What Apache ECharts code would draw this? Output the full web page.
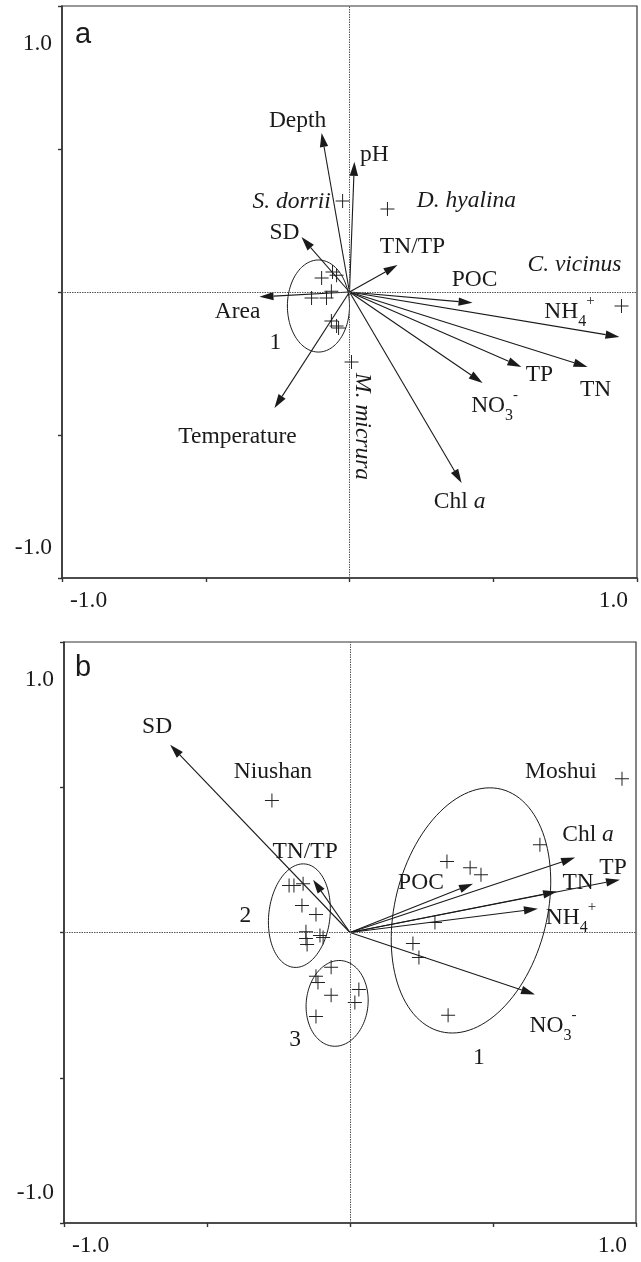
<!DOCTYPE html>
<html><head><meta charset="utf-8">
<script src="https://cdn.jsdelivr.net/npm/echarts@6/dist/echarts.min.js"></script>
<style>html,body{margin:0;padding:0;background:#fff}#c{width:641px;height:1262px}</style>
</head><body><div id="c"></div>
<script>
// ================= DATA =================
const tickLabels = ['-1.0', '1.0'];
const panelLetters = ['a', 'b'];

// ---- Panel a: environmental variables (arrow tips) ----
const aVarNames = ['Depth', 'pH', 'SD', 'TN/TP', 'POC', 'NH4+', 'TN', 'TP', 'NO3-', 'Chl a', 'Area', 'Temperature'];
const aVarX = [-0.097, 0.017, -0.167, 0.167, 0.428, 0.939, 0.828, 0.598, 0.463, 0.390, -0.313, -0.261];
const aVarY = [0.556, 0.455, 0.192, 0.094, -0.038, -0.157, -0.262, -0.262, -0.318, -0.668, -0.017, -0.406];
// ---- Panel a: species ----
const aSpeciesNames = ['S. dorrii', 'D. hyalina', 'C. vicinus', 'M. micrura'];
const aSpeciesX = [-0.024, 0.132, 0.946, 0.007];
const aSpeciesY = [0.318, 0.290, -0.049, -0.245];
// ---- Panel a: sites ----
const aSiteX = [-0.097, -0.059, -0.045, -0.132, -0.080, -0.063, -0.063, -0.045, -0.038];
const aSiteY = [0.049, 0.070, 0.059, -0.021, -0.021, 0.003, -0.101, -0.119, -0.126];
// ---- Panel a: site groups (ellipses) ----
const aClusterNames = ['1'];
const aClusterCx = [-0.108];
const aClusterCy = [-0.049];
const aClusterRx = [0.108];
const aClusterRy = [0.161];
const aClusterTilt = [0];

// ---- Panel b: environmental variables ----
const bVarNames = ['SD', 'TN/TP', 'POC', 'Chl a', 'TP', 'TN', 'NH4+', 'NO3-'];
const bVarX = [-0.629, -0.129, 0.430, 0.787, 0.944, 0.724, 0.657, 0.647];
const bVarY = [0.646, 0.182, 0.168, 0.258, 0.182, 0.141, 0.082, -0.213];
// ---- Panel b: named lakes ----
const bLakeNames = ['Niushan', 'Moshui'];
const bLakeX = [-0.273, 0.951];
const bLakeY = [0.454, 0.529];
// ---- Panel b: sites ----
const bSiteX = [-0.213, -0.196, -0.164, -0.168, -0.119, -0.154, -0.154, -0.150, -0.105, -0.094,
                -0.066, -0.119, -0.112, -0.066, 0.031, 0.017, -0.119,
                0.664, 0.339, 0.420, 0.458, 0.297, 0.220, 0.241, 0.343];
const bSiteY = [0.162, 0.162, 0.168, 0.093, 0.062, 0.003, -0.021, -0.041, -0.010, -0.017,
                -0.120, -0.151, -0.172, -0.216, -0.196, -0.241, -0.289,
                0.302, 0.244, 0.223, 0.199, 0.034, -0.038, -0.086, -0.285];
// ---- Panel b: site groups ----
const bClusterNames = ['1', '2', '3'];
const bClusterCx = [0.423, -0.177, -0.045];
const bClusterCy = [0.076, 0.058, -0.244];
const bClusterRx = [0.266, 0.107, 0.108];
const bClusterRy = [0.430, 0.179, 0.148];
const bClusterTilt = [14, 6.5, 6];

// ================= LAYOUT / STYLE =================
const SERIF = '"Liberation Serif","Times New Roman",Times,serif';
const SANS = '"Liberation Sans",Arial,sans-serif';
const INK = '#1a1a1a';
const FS = 23.5;
// label offsets in px from the anchor: [dx, dy, rotation, align]
const aVarOff = {
  'Depth': [-24, -12], 'pH': [20, -7], 'SD': [-17, -4], 'TN/TP': [15, -18], 'POC': [2, -23],
  'NH4+': [-50, -25], 'TP': [18, 8], 'TN': [8, 23], 'NO3-': [12, 23], 'Chl a': [-2, 19],
  'Area': [-22, 15], 'Temperature': [-37, 29]
};
const aSpeciesOff = {
  'S. dorrii': [-51, 1], 'D. hyalina': [79, -8], 'C. vicinus': [-47, -41],
  'M. micrura': [11, 11, -Math.PI / 2, 'left']
};
const aClusterOff = { '1': [-43, 37] };
const bVarOff = {
  'SD': [-13, -18], 'TN/TP': [-8, -28], 'POC': [-52, -1], 'Chl a': [13, -23], 'TP': [-7, -12],
  'TN': [21, -9], 'NH4+': [33, 9], 'NO3-': [18, 31]
};
const bLakeOff = { 'Niushan': [1, -29], 'Moshui': [-61, -7] };
const bClusterOff = { '1': [8, 147], '2': [-54, 0], '3': [-42, 36] };

function makeRich(key) {
  const base = { fontFamily: SERIF };
  base[key] = INK;
  return {
    n: Object.assign({ fontSize: FS, lineHeight: 36 }, base),
    i: Object.assign({ fontSize: FS, lineHeight: 36, fontStyle: 'italic' }, base),
    sub: Object.assign({ fontSize: 16, lineHeight: 25, verticalAlign: 'bottom' }, base),
    sup: Object.assign({ fontSize: 15, lineHeight: 14, verticalAlign: 'top' }, base)
  };
}
const RICH = makeRich('fill');
function fmt(name, italic) {
  if (name === 'NH4+') return '{n|NH}{sub|4}{sup|+}';
  if (name === 'NO3-') return '{n|NO}{sub|3}{sup|-}';
  if (name === 'Chl a') return '{n|Chl }{i|a}';
  return (italic ? '{i|' : '{n|') + name + '}';
}
function textEl(x, y, name, off, italic) {
  return {
    type: 'text', x: x + off[0], y: y + off[1], rotation: off[2] || 0,
    style: { text: fmt(name, italic), rich: RICH, fontFamily: SERIF, fontSize: FS, fill: INK,
             align: off[3] || 'center', verticalAlign: 'middle' }
  };
}

function arrowSeries(gi, names, xs, ys, offs) {
  return {
    type: 'custom', coordinateSystem: 'cartesian2d', xAxisIndex: gi, yAxisIndex: gi, silent: true, z: 4,
    data: xs.map((x, i) => [x, ys[i]]), encode: { x: 0, y: 1 },
    renderItem(params, api) {
      const o = api.coord([0, 0]);
      const t = api.coord([api.value(0), api.value(1)]);
      const dx = t[0] - o[0], dy = t[1] - o[1];
      const L = Math.hypot(dx, dy) || 1, ux = dx / L, uy = dy / L;
      const hl = 14, hw = 4.2;
      const bx = t[0] - ux * hl, by = t[1] - uy * hl;
      const name = names[params.dataIndex];
      return {
        type: 'group', children: [
          { type: 'line', shape: { x1: o[0], y1: o[1], x2: bx, y2: by }, style: { stroke: INK, lineWidth: 1.1 } },
          { type: 'polygon', shape: { points: [[t[0], t[1]], [bx - uy * hw, by + ux * hw], [bx + uy * hw, by - ux * hw]] },
            style: { fill: INK } },
          textEl(t[0], t[1], name, offs[name], false)
        ]
      };
    }
  };
}
function ellipseSeries(gi, names, cx, cy, rx, ry, tilt, offs) {
  return {
    type: 'custom', coordinateSystem: 'cartesian2d', xAxisIndex: gi, yAxisIndex: gi, silent: true, z: 2,
    data: cx.map((c, i) => [c, cy[i], rx[i], ry[i], tilt[i]]), encode: { x: 0, y: 1 },
    renderItem(params, api) {
      const c = api.coord([api.value(0), api.value(1)]);
      const s = api.size([api.value(2), api.value(3)]);
      const a = api.value(4) * Math.PI / 180;
      const pts = [];
      for (let k = 0; k < 120; k++) {
        const t = k / 120 * 2 * Math.PI;
        const ex = s[0] * Math.cos(t), ey = s[1] * Math.sin(t);
        pts.push([c[0] + ex * Math.cos(a) - ey * Math.sin(a), c[1] + ex * Math.sin(a) + ey * Math.cos(a)]);
      }
      const name = names[params.dataIndex];
      return {
        type: 'group', children: [
          { type: 'polygon', shape: { points: pts }, style: { fill: 'none', stroke: INK, lineWidth: 1 } },
          textEl(c[0], c[1], name, offs[name], false)
        ]
      };
    }
  };
}
function labelSeries(gi, names, xs, ys, offs, italic) {
  return {
    type: 'custom', coordinateSystem: 'cartesian2d', xAxisIndex: gi, yAxisIndex: gi, silent: true, z: 5,
    data: xs.map((x, i) => [x, ys[i]]), encode: { x: 0, y: 1 },
    renderItem(params, api) {
      const p = api.coord([api.value(0), api.value(1)]);
      const name = names[params.dataIndex];
      return textEl(p[0], p[1], name, offs[name], italic);
    }
  };
}
const PLUS = 'path://M0,6.5L14,6.5L14,7.5L0,7.5Z M6.5,0L7.5,0L7.5,14L6.5,14Z';
function plusSeries(gi, xs, ys, withZero) {
  const s = {
    type: 'scatter', xAxisIndex: gi, yAxisIndex: gi, silent: true, z: 3,
    symbol: PLUS, symbolSize: 14, itemStyle: { color: '#222', opacity: 1 },
    data: xs.map((x, i) => [x, ys[i]])
  };
  if (withZero) {
    s.markLine = {
      silent: true, symbol: ['none', 'none'], label: { show: false }, animation: false,
      lineStyle: { color: '#555', width: 1, type: [1.5, 1] },
      data: [{ xAxis: 0 }, { yAxis: 0 }]
    };
  }
  return s;
}

function xAxisOf(gi) {
  return {
    gridIndex: gi, type: 'value', min: -1, max: 1, interval: 0.5,
    axisLine: { show: true, onZero: false, lineStyle: { color: '#333', width: 1.6 } },
    axisTick: { show: true, inside: false, length: 4, lineStyle: { color: '#333', width: 1.4 } },
    splitLine: { show: false },
    axisLabel: {
      show: true, margin: 11, color: INK, fontFamily: SERIF, fontSize: FS,
      alignMinLabel: 'left', alignMaxLabel: 'right',
      formatter: v => v === -1 ? '{l|' + tickLabels[0] + '}' : v === 1 ? '{r|' + tickLabels[1] + '}' : '',
      rich: {
        l: { fontFamily: SERIF, fontSize: FS, color: INK, padding: [0, 0, 0, 8] },
        r: { fontFamily: SERIF, fontSize: FS, color: INK, padding: [0, 9, 0, 0] }
      }
    }
  };
}
function yAxisOf(gi) {
  return {
    gridIndex: gi, type: 'value', min: -1, max: 1, interval: 0.5,
    axisLine: { show: true, onZero: false, lineStyle: { color: '#333', width: 1.6 } },
    axisTick: { show: true, inside: false, length: 4, lineStyle: { color: '#333', width: 1.4 } },
    splitLine: { show: false },
    axisLabel: {
      show: true, margin: 10, color: INK, fontFamily: SERIF, fontSize: FS,
      formatter: v => v === 1 ? '{t|' + tickLabels[1] + '}' : v === -1 ? '{b|' + tickLabels[0] + '}' : '',
      rich: {
        t: { fontFamily: SERIF, fontSize: FS, color: INK, padding: [76, 0, 0, 0] },
        b: { fontFamily: SERIF, fontSize: FS, color: INK, padding: [0, 0, 60, 0] }
      }
    }
  };
}

const chart = echarts.init(document.getElementById('c'), null, { renderer: 'canvas' });
chart.setOption({
  backgroundColor: '#fff',
  animation: false,
  title: [
    { text: panelLetters[0], left: 75, top: 20, padding: 0, textStyle: { fontFamily: SANS, fontSize: 29, fontWeight: 'normal', color: INK } },
    { text: panelLetters[1], left: 75, top: 653, padding: 0, textStyle: { fontFamily: SANS, fontSize: 29, fontWeight: 'normal', color: INK } }
  ],
  grid: [
    { left: 62, top: 6, width: 575, height: 572, show: true, borderColor: '#333', borderWidth: 1.2, backgroundColor: 'transparent', outerBoundsMode: 'none', containLabel: false },
    { left: 64, top: 642, width: 572, height: 581, show: true, borderColor: '#333', borderWidth: 1.2, backgroundColor: 'transparent', outerBoundsMode: 'none', containLabel: false }
  ],
  xAxis: [xAxisOf(0), xAxisOf(1)],
  yAxis: [yAxisOf(0), yAxisOf(1)],
  series: [
    // panel a
    ellipseSeries(0, aClusterNames, aClusterCx, aClusterCy, aClusterRx, aClusterRy, aClusterTilt, aClusterOff),
    plusSeries(0, aSiteX, aSiteY, true),
    plusSeries(0, aSpeciesX, aSpeciesY, false),
    arrowSeries(0, aVarNames, aVarX, aVarY, aVarOff),
    labelSeries(0, aSpeciesNames, aSpeciesX, aSpeciesY, aSpeciesOff, true),
    // panel b
    ellipseSeries(1, bClusterNames, bClusterCx, bClusterCy, bClusterRx, bClusterRy, bClusterTilt, bClusterOff),
    plusSeries(1, bSiteX, bSiteY, true),
    plusSeries(1, bLakeX, bLakeY, false),
    arrowSeries(1, bVarNames, bVarX, bVarY, bVarOff),
    labelSeries(1, bLakeNames, bLakeX, bLakeY, bLakeOff, false)
  ]
});
</script>
</body></html>
